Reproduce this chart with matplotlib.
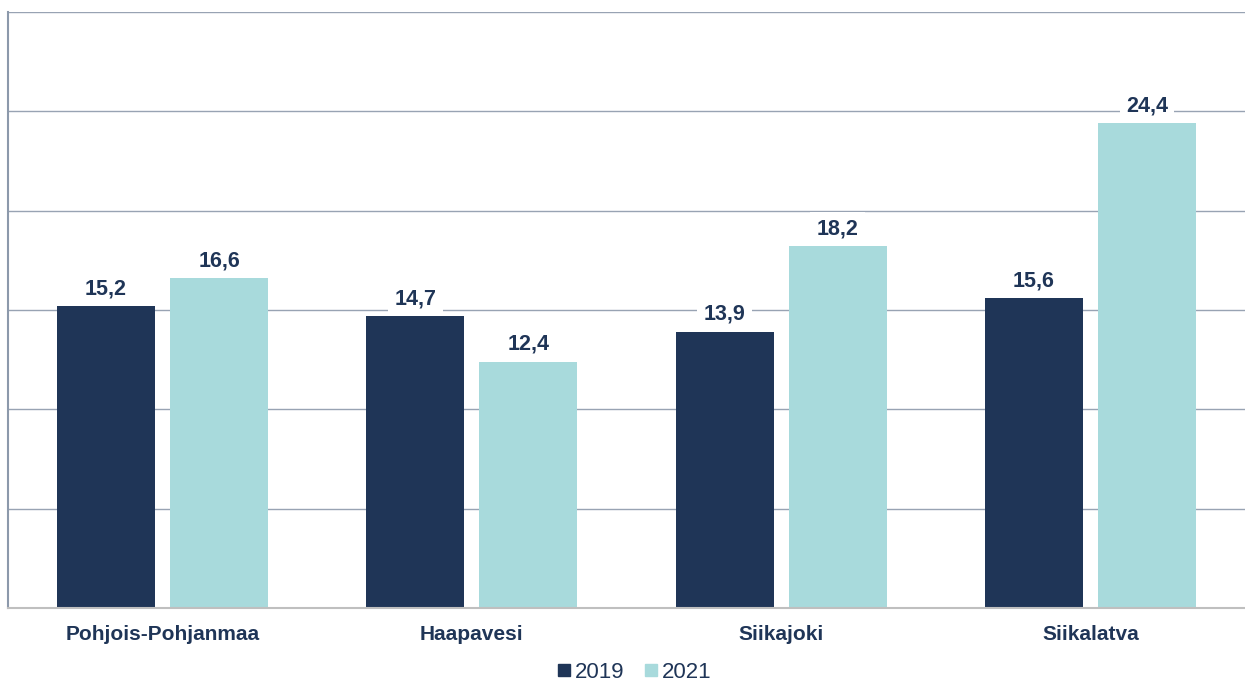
import numpy as np
import matplotlib.pyplot as plt
from matplotlib.lines import Line2D

categories = ["Pohjois-Pohjanmaa", "Haapavesi", "Siikajoki", "Siikalatva"]
years = ["2019", "2021"]
values_2019 = [15.2, 14.7, 13.9, 15.6]
values_2021 = [16.6, 12.4, 18.2, 24.4]

navy = "#1F3557"
teal = "#A8DADC"
text_col = "#1F3557"

plt.rcParams['font.family'] = ['Liberation Sans', 'DejaVu Sans']

fig = plt.figure(figsize=(12.45, 6.83), dpi=100)
ax = fig.add_axes([8 / 1245, 1 - 608 / 683, 1 - 8 / 1245, (608 - 12) / 683])

x = np.arange(len(categories))
w = 0.317
off = 0.183
b1 = ax.bar(x - off, values_2019, w, color=navy, zorder=2)
b2 = ax.bar(x + off, values_2021, w, color=teal, zorder=2)

for bars, vals in ((b1, values_2019), (b2, values_2021)):
    for r, v in zip(bars, vals):
        ax.annotate(f"{v:.1f}".replace(".", ","), (r.get_x() + r.get_width() / 2, v),
                    xytext=(0, 5), textcoords="offset points", ha="center", va="bottom",
                    fontsize=15.5, fontweight="bold", color=text_col, zorder=3,
                    bbox=dict(boxstyle="square,pad=0.3", fc="white", ec="none"))

ax.set_xlim(-0.5, 3.5)
ax.set_ylim(0, 30)
ax.set_yticks(np.arange(0, 31, 5))
ax.set_yticklabels([])
ax.tick_params(axis="y", length=0)
ax.yaxis.grid(True, color="#98A3B3", linewidth=1.0, zorder=0)
ax.set_axisbelow(True)

ax.set_xticks(x)
ax.set_xticklabels(categories, fontsize=15, fontweight="bold", color=text_col)
ax.tick_params(axis="x", length=0, pad=12)

for s in ("top", "right"):
    ax.spines[s].set_visible(False)
ax.spines["left"].set_color("#8C99AB")
ax.spines["left"].set_linewidth(1.5)
ax.spines["bottom"].set_color("#BFBFBF")
ax.spines["bottom"].set_linewidth(1.5)

handles = [Line2D([], [], marker="s", linestyle="none", markersize=8, color=c) for c in (navy, teal)]
fig.legend(handles, years, loc="center", bbox_to_anchor=(631 / 1245, 1 - 672 / 683),
           ncol=2, frameon=False, fontsize=16, handletextpad=-0.1, columnspacing=0.6,
           handlelength=1.2, labelcolor=text_col)

fig.savefig("out.png", dpi=100)
